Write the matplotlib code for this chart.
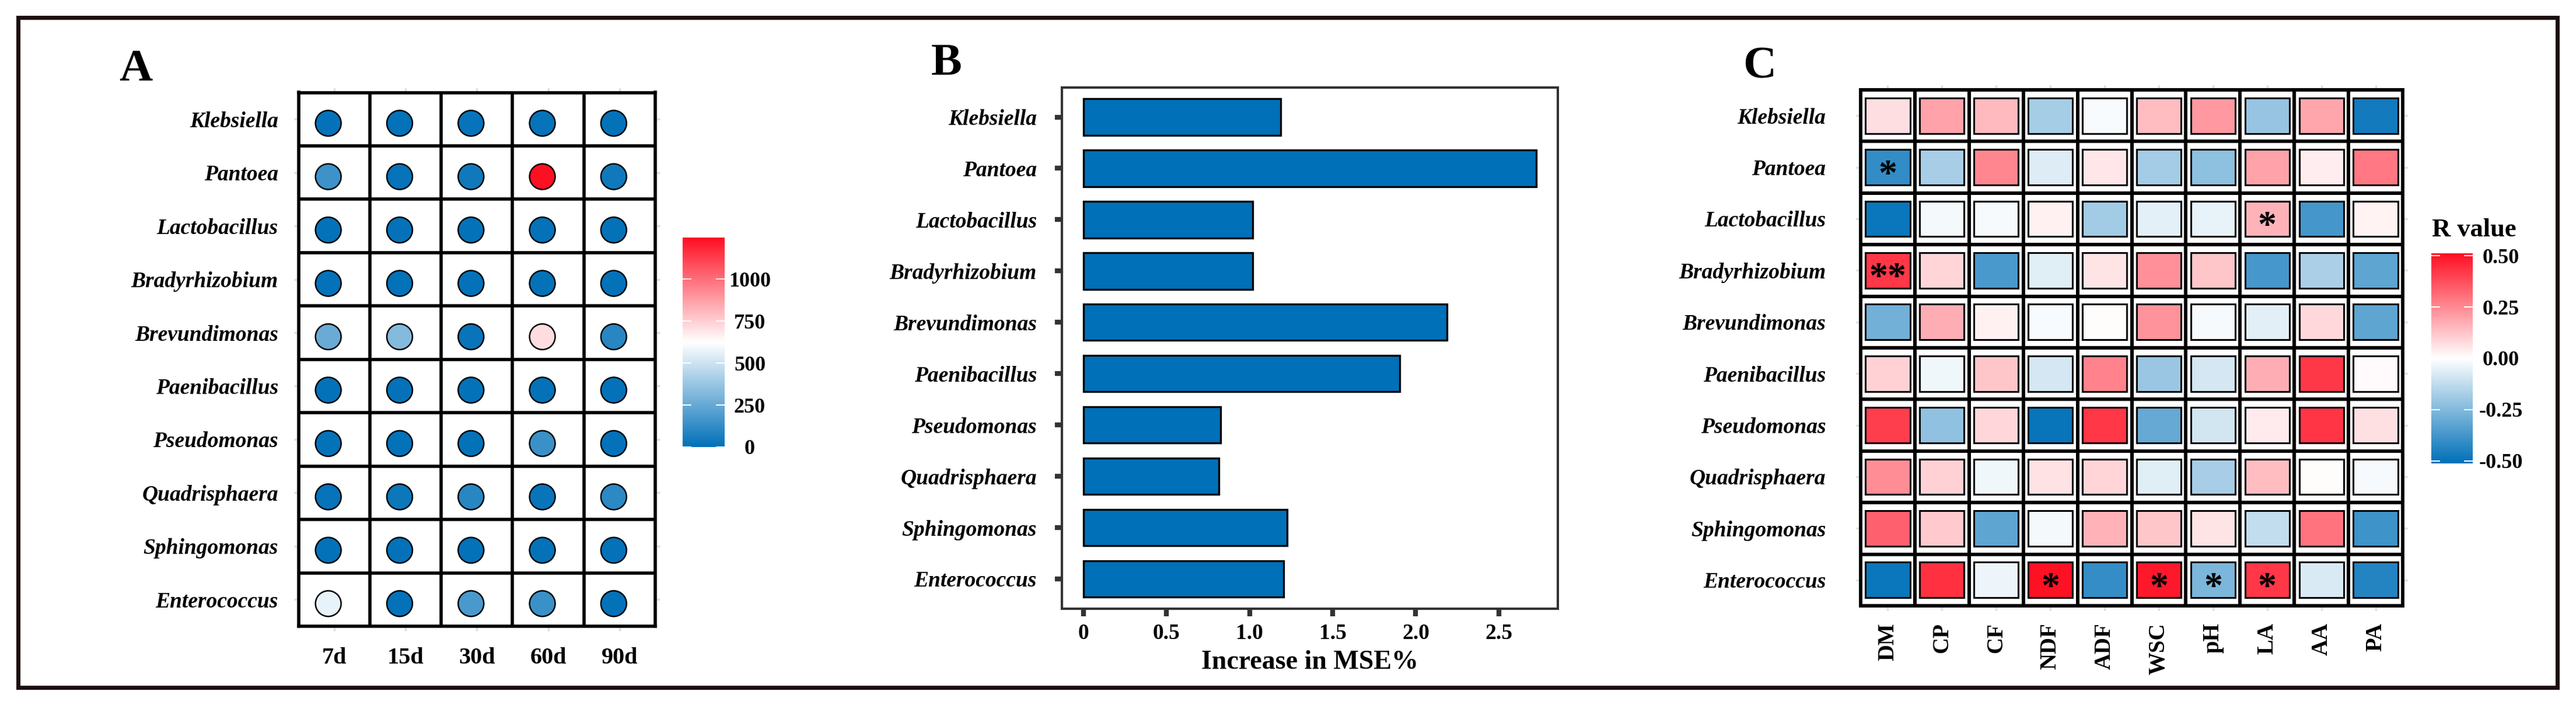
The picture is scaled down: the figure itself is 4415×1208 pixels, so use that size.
import numpy as np
import matplotlib
matplotlib.use('Agg')
import matplotlib.pyplot as plt
from matplotlib.colors import LinearSegmentedColormap, Normalize
from matplotlib.patches import Rectangle
from matplotlib.cm import ScalarMappable
import matplotlib.transforms as mtransforms

plt.rcParams['font.family'] = ['Liberation Serif', 'DejaVu Serif']
plt.rcParams['font.weight'] = 'bold'

# ---------------- data ----------------
genera = ['Klebsiella', 'Pantoea', 'Lactobacillus', 'Bradyrhizobium', 'Brevundimonas',
          'Paenibacillus', 'Pseudomonas', 'Quadrisphaera', 'Sphingomonas', 'Enterococcus']
days = ['7d', '15d', '30d', '60d', '90d']

# Panel A: abundance per genus (rows) and ensiling day (columns)
abund_klebsiella = [12, 14, 15, 16, 14]
abund_pantoea = [150, 16, 40, 1248, 42]
abund_lactobacillus = [10, 12, 12, 12, 12]
abund_bradyrhizobium = [12, 12, 12, 12, 12]
abund_brevundimonas = [262, 326, 22, 712, 98]
abund_paenibacillus = [10, 10, 10, 10, 10]
abund_pseudomonas = [12, 12, 12, 142, 12]
abund_quadrisphaera = [16, 32, 102, 20, 110]
abund_sphingomonas = [12, 12, 12, 12, 12]
abund_enterococcus = [567, 14, 183, 142, 14]

# Panel B: random-forest importance
mse_increase = [1.189, 2.726, 1.017, 1.017, 2.187, 1.904, 0.826, 0.815, 1.226, 1.205]
mse_ticks = [0, 0.5, 1.0, 1.5, 2.0, 2.5]
mse_ticklabels = ['0', '0.5', '1.0', '1.5', '2.0', '2.5']

# Panel C: correlations
factors = ['DM', 'CP', 'CF', 'NDF', 'ADF', 'WSC', 'pH', 'LA', 'AA', 'PA']
r_klebsiella = [0.071, 0.199, 0.144, -0.180, -0.016, 0.142, 0.218, -0.212, 0.190, -0.476]
r_pantoea = [-0.410, -0.176, 0.257, -0.067, 0.050, -0.184, -0.225, 0.197, 0.036, 0.285]
r_lactobacillus = [-0.490, -0.022, -0.020, 0.031, -0.188, -0.055, -0.047, 0.163, -0.373, 0.025]
r_bradyrhizobium = [0.425, 0.088, -0.361, -0.061, 0.059, 0.238, 0.121, -0.369, -0.171, -0.322]
r_brevundimonas = [-0.284, 0.174, 0.029, -0.014, 0.006, 0.228, -0.020, -0.059, 0.082, -0.324]
r_paenibacillus = [0.098, -0.031, 0.121, -0.088, 0.266, -0.204, -0.086, 0.174, 0.423, 0.010]
r_pseudomonas = [0.410, -0.224, 0.084, -0.496, 0.425, -0.308, -0.092, 0.040, 0.429, 0.067]
r_quadrisphaera = [0.243, 0.098, -0.029, 0.063, 0.090, -0.061, -0.173, 0.140, 0.006, -0.020]
r_sphingomonas = [0.339, 0.115, -0.322, -0.022, 0.161, 0.121, 0.059, -0.122, 0.297, -0.386]
r_enterococcus = [-0.490, 0.437, -0.033, 0.505, -0.406, 0.490, -0.263, 0.427, -0.076, -0.439]

sig_klebsiella = ['', '', '', '', '', '', '', '', '', '']
sig_pantoea = ['*', '', '', '', '', '', '', '', '', '']
sig_lactobacillus = ['', '', '', '', '', '', '', '*', '', '']
sig_bradyrhizobium = ['**', '', '', '', '', '', '', '', '', '']
sig_brevundimonas = ['', '', '', '', '', '', '', '', '', '']
sig_paenibacillus = ['', '', '', '', '', '', '', '', '', '']
sig_pseudomonas = ['', '', '', '', '', '', '', '', '', '']
sig_quadrisphaera = ['', '', '', '', '', '', '', '', '', '']
sig_sphingomonas = ['', '', '', '', '', '', '', '', '', '']
sig_enterococcus = ['', '', '', '*', '', '*', '*', '*', '', '']

abund_ticks = [0, 250, 500, 750, 1000]
r_ticks = [-0.5, -0.25, 0.0, 0.25, 0.5]
r_ticklabels = ['-0.50', '-0.25', '0.00', '0.25', '0.50']

abundance = np.array([abund_klebsiella, abund_pantoea, abund_lactobacillus, abund_bradyrhizobium,
                      abund_brevundimonas, abund_paenibacillus, abund_pseudomonas,
                      abund_quadrisphaera, abund_sphingomonas, abund_enterococcus], float)
rmat = np.array([r_klebsiella, r_pantoea, r_lactobacillus, r_bradyrhizobium, r_brevundimonas,
                 r_paenibacillus, r_pseudomonas, r_quadrisphaera, r_sphingomonas, r_enterococcus])
sigmat = [sig_klebsiella, sig_pantoea, sig_lactobacillus, sig_bradyrhizobium, sig_brevundimonas,
          sig_paenibacillus, sig_pseudomonas, sig_quadrisphaera, sig_sphingomonas, sig_enterococcus]

# ---------------- figure ----------------
W, H = 4415, 1208
fig = plt.figure(figsize=(W / 100, H / 100), dpi=100)


def fax(x0, x1, y0, y1):
    return fig.add_axes([x0 / W, 1 - y1 / H, (x1 - x0) / W, (y1 - y0) / H])


cmap = LinearSegmentedColormap.from_list('bwr_custom', ['#0070B8', '#FFFFFF', '#FF0F22'])
BLUE = '#0070B8'
LAB_SIZE = 27

# outer frame
fig.patches.append(Rectangle((31 / W, 1 - 1178 / H), (4383 - 31) / W, (1178 - 30) / H,
                             transform=fig.transFigure, fill=False,
                             edgecolor='#1c0f0f', lw=5, zorder=10))

# ---------- Panel A ----------
axA = fax(511.5, 1123, 158.5, 1073)
normA = Normalize(vmin=0, vmax=abundance.max())
xx, yy = np.meshgrid(np.arange(len(days)), np.arange(len(genera)))
offA = mtransforms.ScaledTranslation(-0.10, -0.07, fig.dpi_scale_trans)
axA.scatter(xx.ravel(), yy.ravel(), c=abundance.ravel(), cmap=cmap, norm=normA,
            s=1000, edgecolors='black', linewidths=1.8, zorder=3,
            transform=axA.transData + offA)
axA.set_xlim(-0.5, len(days) - 0.5)
axA.set_ylim(len(genera) - 0.5, -0.5)
for k in range(1, len(days)):
    axA.axvline(k - 0.5, color='black', lw=4, zorder=2)
for k in range(1, len(genera)):
    axA.axhline(k - 0.5, color='black', lw=4, zorder=2)
for sp in axA.spines.values():
    sp.set_color('black'); sp.set_linewidth(4)
axA.set_xticks(range(len(days)))
axA.set_xticklabels(days, fontsize=29, fontweight='bold')
axA.set_yticks(range(len(genera)))
axA.set_yticklabels(genera, fontsize=LAB_SIZE, fontweight='bold', style='italic')
axA.tick_params(axis='both', which='both', color='#dddddd', length=6, width=2.5,
                top=True, right=True, direction='out')
axA.tick_params(axis='x', pad=20)
axA.tick_params(axis='y', pad=19)

caxA = fax(1170, 1242, 407, 766)
cbA = fig.colorbar(ScalarMappable(norm=normA, cmap=cmap), cax=caxA, ticks=abund_ticks)
cbA.outline.set_visible(False)
caxA.tick_params(direction='in', color='white', length=11, width=1.5, left=True, right=True,
                 labelsize=26, pad=31)
for lab in caxA.get_yticklabels():
    lab.set_horizontalalignment('center')
    lab.set_fontweight('bold')

fig.text(204 / W, 1 - 138 / H, 'A', fontsize=57, fontweight='bold', ha='left', va='baseline')

# ---------- Panel B ----------
axB = fax(1820, 2670, 149.5, 1043)
axB.barh(np.arange(len(genera)), mse_increase, height=0.71, color=BLUE,
         edgecolor='black', linewidth=2.4, zorder=2)
axB.set_ylim(len(genera) - 0.42, -0.58)
axB.set_xlim(-0.13, 2.856)
axB.set_yticks(range(len(genera)))
axB.set_yticklabels(genera, fontsize=LAB_SIZE, fontweight='bold', style='italic')
axB.set_xticks(mse_ticks)
axB.set_xticklabels(mse_ticklabels, fontsize=27, fontweight='bold')
for sp in axB.spines.values():
    sp.set_color('#333333'); sp.set_linewidth(2.9)
axB.tick_params(axis='both', color='#333333', length=9, width=6, direction='out')
axB.tick_params(axis='x', pad=9)
axB.tick_params(axis='y', pad=22)
axB.set_xlabel('Increase in MSE%', fontsize=33, fontweight='bold', labelpad=8)

fig.text(1596 / W, 1 - 128 / H, 'B', fontsize=57, fontweight='bold', ha='left', va='baseline')

# ---------- Panel C ----------
axC = fax(3189, 4118, 154, 1038)
normC = Normalize(vmin=-0.512, vmax=0.512)
nr, nc = rmat.shape
axC.set_xlim(-0.5, nc - 0.5)
axC.set_ylim(nr - 0.5, -0.5)
tw, th = 0.82, 0.69
star_off = mtransforms.ScaledTranslation(0, -0.30, fig.dpi_scale_trans)
for i in range(nr):
    for j in range(nc):
        axC.add_patch(Rectangle((j - tw / 2, i - th / 2), tw, th,
                                facecolor=cmap(normC(rmat[i, j])), edgecolor='black',
                                lw=2.2, zorder=3))
        if sigmat[i][j]:
            axC.text(j, i, sigmat[i][j], ha='center', va='baseline', fontsize=46,
                     fontweight='bold', color='black', zorder=4,
                     transform=axC.transData + star_off)
for k in range(1, nc):
    axC.axvline(k - 0.5, color='black', lw=4.3, zorder=2)
for k in range(1, nr):
    axC.axhline(k - 0.5, color='black', lw=4.3, zorder=2)
for sp in axC.spines.values():
    sp.set_color('black'); sp.set_linewidth(4.3)
axC.set_xticks(range(nc))
axC.set_xticklabels(factors, fontsize=28, fontweight='bold', rotation=90)
axC.set_yticks(range(nr))
axC.set_yticklabels(genera, fontsize=LAB_SIZE, fontweight='bold', style='italic')
axC.tick_params(axis='both', color='#dddddd', length=6, width=2.5,
                top=True, right=True, direction='out')
axC.tick_params(axis='x', pad=15)
axC.tick_params(axis='y', pad=37)

caxC = fax(4167, 4238, 434, 794)
cbC = fig.colorbar(ScalarMappable(norm=normC, cmap=cmap), cax=caxC, ticks=r_ticks)
cbC.outline.set_visible(False)
cbC.set_ticklabels(r_ticklabels)
caxC.tick_params(direction='in', color='white', length=11, width=1.5, left=True, right=True,
                 labelsize=26, pad=35)
for lab in caxC.get_yticklabels():
    lab.set_horizontalalignment('center')
    lab.set_fontweight('bold')
fig.text(4168 / W, 1 - 405 / H, 'R value', fontsize=32, fontweight='bold',
         ha='left', va='baseline')

fig.text(2987 / W, 1 - 134 / H, 'C', fontsize=57, fontweight='bold', ha='left', va='baseline')

fig.savefig('out.png', dpi=100, facecolor='white')
